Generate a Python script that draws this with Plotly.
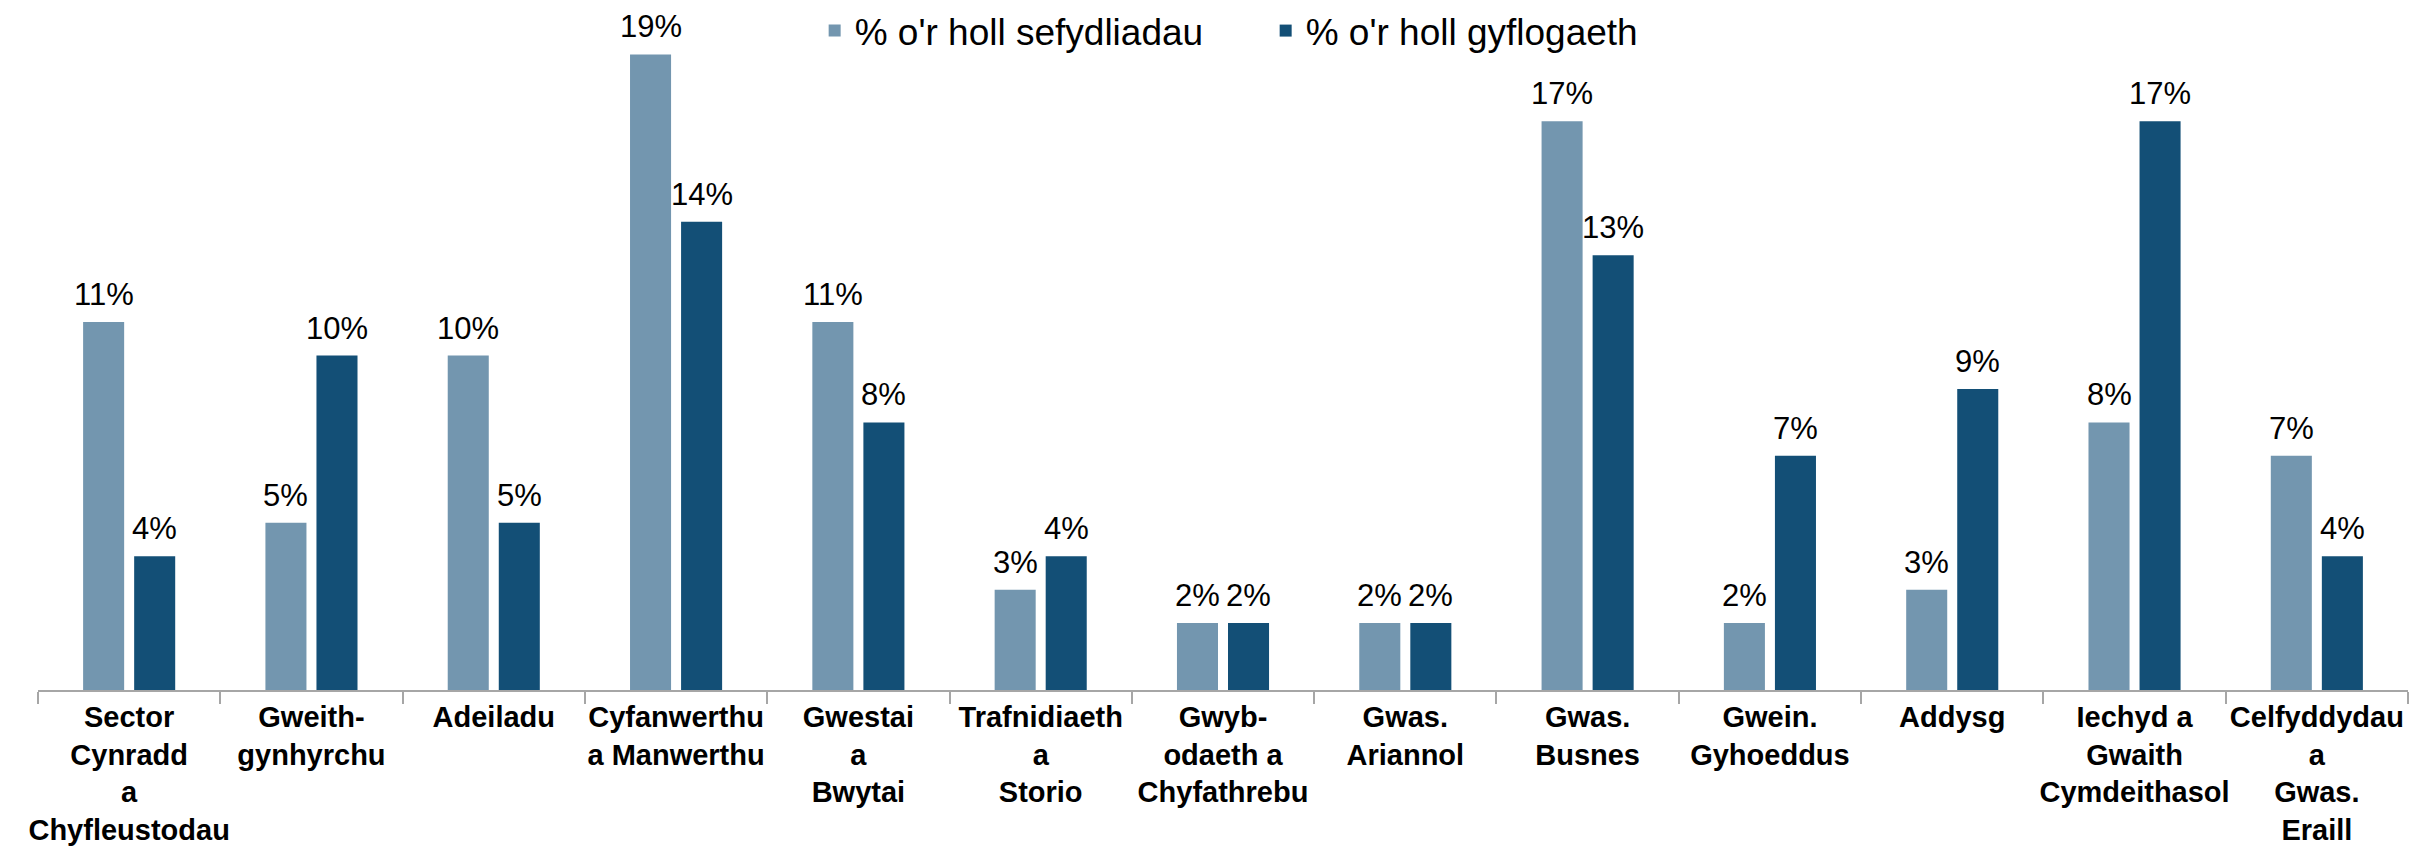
import plotly.graph_objects as go

categories = [
    "Sector<br>Cynradd<br>a<br>Chyfleustodau",
    "Gweith-<br>gynhyrchu",
    "Adeiladu",
    "Cyfanwerthu<br>a Manwerthu",
    "Gwestai<br>a<br>Bwytai",
    "Trafnidiaeth<br>a<br>Storio",
    "Gwyb-<br>odaeth a<br>Chyfathrebu",
    "Gwas.<br>Ariannol",
    "Gwas.<br>Busnes",
    "Gwein.<br>Gyhoeddus",
    "Addysg",
    "Iechyd a<br>Gwaith<br>Cymdeithasol",
    "Celfyddydau<br>a<br>Gwas.<br>Eraill",
]
sefydliadau = [11, 5, 10, 19, 11, 3, 2, 2, 17, 2, 3, 8, 7]
gyflogaeth = [4, 10, 5, 14, 8, 4, 2, 2, 13, 7, 9, 17, 4]
series_names = ["% o'r holl sefydliadau", "% o'r holl gyflogaeth"]
colors = ["#7396AF", "#134F76"]

W, H = 2427, 847
ML, MR, MT, MB = 38, 19, 21, 157
FONT = "Liberation Sans, Arial, sans-serif"
BARGAP, GROUPGAP = 0.44, 0.196

fig = go.Figure()
for name, vals, col in zip(series_names, [sefydliadau, gyflogaeth], colors):
    fig.add_trace(go.Bar(x=categories, y=vals, name=name, marker=dict(color=col, line=dict(width=0))))

# data labels
plot_w = W - ML - MR
cat_w = plot_w / len(categories)
slot = cat_w * (1 - BARGAP) / 2
for k, vals in enumerate([sefydliadau, gyflogaeth]):
    shift = (-0.5 + k) * slot
    for c, v in zip(categories, vals):
        fig.add_annotation(x=c, y=v, text=f"{v}%", showarrow=False, xshift=shift,
                           yanchor="bottom", yshift=8,
                           font=dict(family=FONT, size=31, color="#000000"))

fig.update_layout(
    width=W, height=H,
    margin=dict(l=ML, r=MR, t=MT, b=MB, autoexpand=False),
    plot_bgcolor="white", paper_bgcolor="white",
    barmode="group", bargap=BARGAP, bargroupgap=GROUPGAP,
    font=dict(family=FONT, color="#000000"),
    legend=dict(orientation="h", x=0.518, xanchor="center", y=0.985, yanchor="middle",
                font=dict(family=FONT, size=37, color="#000000"), bgcolor="rgba(0,0,0,0)",
                itemwidth=30, entrywidth=406),
    xaxis=dict(showline=True, linecolor="#A6A6A6", linewidth=2, ticks="outside",
               tickson="boundaries", ticklen=12, tickcolor="#A6A6A6", tickwidth=2,
               tickangle=0, automargin=False,
               tickfont=dict(family=FONT, size=29, color="#000000", weight="bold"),
               showgrid=False),
    yaxis=dict(range=[0, 20], visible=False, showgrid=False),
)

fig.write_html("out.html", config={"displayModeBar": False},
               post_script="document.body.style.margin='0';document.body.style.overflow='hidden';")
